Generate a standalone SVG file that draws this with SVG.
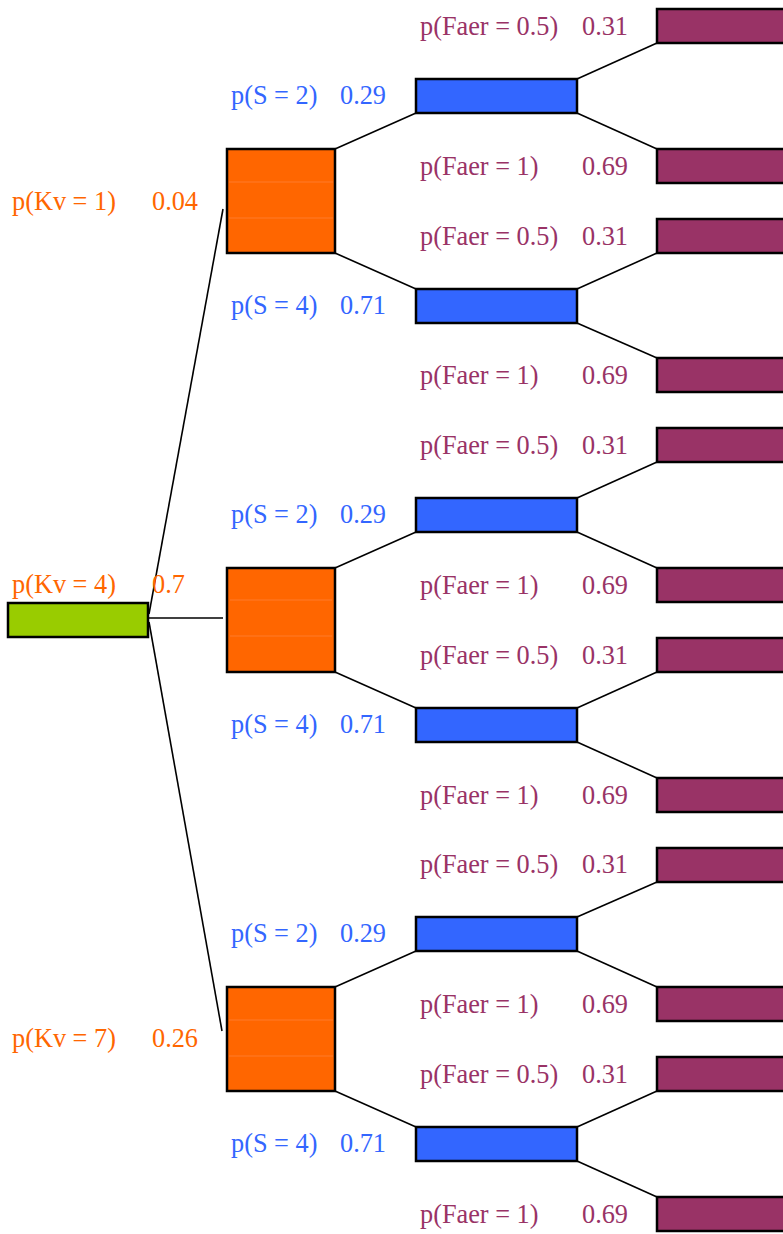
<svg xmlns="http://www.w3.org/2000/svg" width="783" height="1234" viewBox="0 0 783 1234">
  <style>
    .box { stroke: #000; stroke-width: 2.5; }
    .kv { fill: #99CC00; }
    .s { fill: #FF6600; }
    .st { fill: #3366FF; }
    .f { fill: #993366; }
    .seam { stroke: #FF7A2A; stroke-width: 1; }
    .edge { stroke: #000; stroke-width: 1.6; fill: none; }
    text { font-family: "Liberation Serif", "Times New Roman", serif; font-size: 26.3px; }
    .tk { fill: #FF6600; }
    .ts { fill: #3366FF; }
    .tf { fill: #993366; }
  </style>

  <!-- connectors -->
  <g id="connectors" class="edge">
    <line x1="149" y1="614" x2="223" y2="209"/>
    <line x1="149" y1="618" x2="223" y2="618"/>
    <line x1="149" y1="622" x2="222" y2="1031"/>
    <!-- branch 1 -->
    <line x1="335" y1="149" x2="416" y2="113"/>
    <line x1="335" y1="253" x2="416" y2="289"/>
    <line x1="577" y1="79" x2="657" y2="43"/>
    <line x1="577" y1="113" x2="657" y2="149"/>
    <line x1="577" y1="289" x2="657" y2="253"/>
    <line x1="577" y1="323" x2="657" y2="358"/>
    <!-- branch 2 -->
    <line x1="335" y1="568" x2="416" y2="532"/>
    <line x1="335" y1="672" x2="416" y2="708"/>
    <line x1="577" y1="498" x2="657" y2="462"/>
    <line x1="577" y1="532" x2="657" y2="568"/>
    <line x1="577" y1="708" x2="657" y2="672"/>
    <line x1="577" y1="742" x2="657" y2="778"/>
    <!-- branch 3 -->
    <line x1="335" y1="987" x2="416" y2="951"/>
    <line x1="335" y1="1091" x2="416" y2="1127"/>
    <line x1="577" y1="917" x2="657" y2="882"/>
    <line x1="577" y1="951" x2="657" y2="987"/>
    <line x1="577" y1="1127" x2="657" y2="1091"/>
    <line x1="577" y1="1161" x2="657" y2="1197"/>
  </g>

  <!-- root -->
  <g id="kv-root">
    <rect class="box kv" x="8" y="603" width="140" height="34"/>
  </g>

  <!-- Kv branches -->
  <g id="kv1">
    <rect class="box s" x="227" y="149" width="108" height="104"/>
    <line class="seam" x1="229" y1="182" x2="333" y2="182"/>
    <line class="seam" x1="229" y1="218" x2="333" y2="218"/>
    <text class="tk" x="12" y="210">p(Kv = 1)</text>
    <text class="tk" x="152" y="210">0.04</text>
  </g>
  <g id="kv4">
    <rect class="box s" x="227" y="568" width="108" height="104"/>
    <line class="seam" x1="230" y1="600" x2="332" y2="600"/>
    <line class="seam" x1="230" y1="636" x2="332" y2="636"/>
    <text class="tk" x="12" y="593">p(Kv = 4)</text>
    <text class="tk" x="152" y="593">0.7</text>
  </g>
  <g id="kv7">
    <rect class="box s" x="227" y="987" width="108" height="104"/>
    <line class="seam" x1="229" y1="1020" x2="333" y2="1020"/>
    <line class="seam" x1="229" y1="1056" x2="333" y2="1056"/>
    <text class="tk" x="12" y="1047">p(Kv = 7)</text>
    <text class="tk" x="152" y="1047">0.26</text>
  </g>

  <!-- S nodes -->
  <g id="kv1-s2">
    <rect class="box st" x="416" y="79" width="161" height="34"/>
    <text class="ts" x="231" y="104">p(S = 2)</text>
    <text class="ts" x="340" y="104">0.29</text>
  </g>
  <g id="kv1-s4">
    <rect class="box st" x="416" y="289" width="161" height="34"/>
    <text class="ts" x="231" y="314">p(S = 4)</text>
    <text class="ts" x="340" y="314">0.71</text>
  </g>
  <g id="kv4-s2">
    <rect class="box st" x="416" y="498" width="161" height="34"/>
    <text class="ts" x="231" y="523">p(S = 2)</text>
    <text class="ts" x="340" y="523">0.29</text>
  </g>
  <g id="kv4-s4">
    <rect class="box st" x="416" y="708" width="161" height="34"/>
    <text class="ts" x="231" y="733">p(S = 4)</text>
    <text class="ts" x="340" y="733">0.71</text>
  </g>
  <g id="kv7-s2">
    <rect class="box st" x="416" y="917" width="161" height="34"/>
    <text class="ts" x="231" y="942">p(S = 2)</text>
    <text class="ts" x="340" y="942">0.29</text>
  </g>
  <g id="kv7-s4">
    <rect class="box st" x="416" y="1127" width="161" height="34"/>
    <text class="ts" x="231" y="1152">p(S = 4)</text>
    <text class="ts" x="340" y="1152">0.71</text>
  </g>

  <!-- Faer leaves -->
  <g id="f1">
    <rect class="box f" x="657" y="9" width="140" height="34"/>
    <text class="tf" x="420" y="35">p(Faer = 0.5)</text>
    <text class="tf" x="582" y="35">0.31</text>
  </g>
  <g id="f2">
    <rect class="box f" x="657" y="149" width="140" height="34"/>
    <text class="tf" x="420" y="175">p(Faer = 1)</text>
    <text class="tf" x="582" y="175">0.69</text>
  </g>
  <g id="f3">
    <rect class="box f" x="657" y="219" width="140" height="34"/>
    <text class="tf" x="420" y="245">p(Faer = 0.5)</text>
    <text class="tf" x="582" y="245">0.31</text>
  </g>
  <g id="f4">
    <rect class="box f" x="657" y="358" width="140" height="34"/>
    <text class="tf" x="420" y="384">p(Faer = 1)</text>
    <text class="tf" x="582" y="384">0.69</text>
  </g>
  <g id="f5">
    <rect class="box f" x="657" y="428" width="140" height="34"/>
    <text class="tf" x="420" y="454">p(Faer = 0.5)</text>
    <text class="tf" x="582" y="454">0.31</text>
  </g>
  <g id="f6">
    <rect class="box f" x="657" y="568" width="140" height="34"/>
    <text class="tf" x="420" y="594">p(Faer = 1)</text>
    <text class="tf" x="582" y="594">0.69</text>
  </g>
  <g id="f7">
    <rect class="box f" x="657" y="638" width="140" height="34"/>
    <text class="tf" x="420" y="664">p(Faer = 0.5)</text>
    <text class="tf" x="582" y="664">0.31</text>
  </g>
  <g id="f8">
    <rect class="box f" x="657" y="778" width="140" height="34"/>
    <text class="tf" x="420" y="804">p(Faer = 1)</text>
    <text class="tf" x="582" y="804">0.69</text>
  </g>
  <g id="f9">
    <rect class="box f" x="657" y="848" width="140" height="34"/>
    <text class="tf" x="420" y="873">p(Faer = 0.5)</text>
    <text class="tf" x="582" y="873">0.31</text>
  </g>
  <g id="f10">
    <rect class="box f" x="657" y="987" width="140" height="34"/>
    <text class="tf" x="420" y="1013">p(Faer = 1)</text>
    <text class="tf" x="582" y="1013">0.69</text>
  </g>
  <g id="f11">
    <rect class="box f" x="657" y="1057" width="140" height="34"/>
    <text class="tf" x="420" y="1083">p(Faer = 0.5)</text>
    <text class="tf" x="582" y="1083">0.31</text>
  </g>
  <g id="f12">
    <rect class="box f" x="657" y="1197" width="140" height="34"/>
    <text class="tf" x="420" y="1223">p(Faer = 1)</text>
    <text class="tf" x="582" y="1223">0.69</text>
  </g>
</svg>
